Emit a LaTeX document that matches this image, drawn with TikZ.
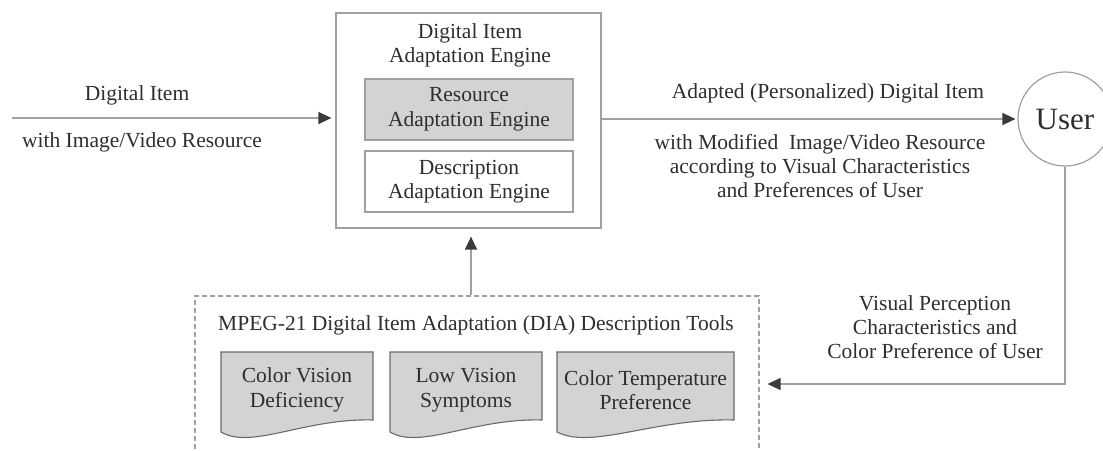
\documentclass[tikz,border=0pt]{standalone}
\usepackage{fontspec}
\setmainfont{Liberation Serif}
\usetikzlibrary{arrows.meta,calc}
\definecolor{txt}{HTML}{2E2E2E}
\definecolor{ln}{HTML}{A0A0A0}
\definecolor{docln}{HTML}{6A6A6A}
\definecolor{fillg}{HTML}{D3D3D3}
\definecolor{tipc}{HTML}{3A3A3A}
\newcommand\docshape[2]{%
  \pgfmathsetmacro\dw{#2-#1}%
  \path[docpath] (#1,352) -- (#2,352) -- (#2,420)
    .. controls ({#2-0.45*\dw},418) and ({#1+0.2*\dw},450) .. (#1,432) -- cycle;%
}
\begin{document}
\begin{tikzpicture}[x=1pt,y=-1pt,
  lbl/.style={text=txt,font=\fontsize{21.5}{24.5}\selectfont,align=center,inner sep=0pt},
  box/.style={draw=ln,line width=1.2pt},
  conn/.style={draw=ln,line width=1.3pt,-{Triangle[length=13pt,width=12pt,color=tipc,fill=tipc]}},
  docpath/.style={draw=docln,fill=fillg,line width=1.1pt},
  dashbox/.style={draw=ln,line width=1.1pt,dash pattern=on 5pt off 3pt}]
\useasboundingbox (0,0) rectangle (1103,450);

% main engine box
\node[box,minimum width=265pt,minimum height=215pt,inner sep=0pt] (main) at (468.5,120.5) {};
\node[lbl] (mainT) at (470,45.5) {Digital Item\\Adaptation Engine};
\node[box,lbl,fill=fillg,minimum width=208pt,minimum height=61pt] (res) at (469,109.5) {Resource\\Adaptation Engine};
\node[box,lbl,minimum width=208pt,minimum height=61pt] (desc) at (469,181.5) {Description\\Adaptation Engine};

% user
\node[draw=ln,line width=1.2pt,circle,minimum size=94pt,inner sep=0pt,text=txt,font=\fontsize{31}{31}\selectfont] (user) at (1065,119) {User};

% DIA description tools
\node[dashbox,minimum width=564pt,minimum height=204pt,inner sep=0pt] (dia) at (477,398) {};
\node[lbl] (diaT) at (476,325) {MPEG-21 Digital Item Adaptation (DIA) Description Tools};
\docshape{221}{373}
\docshape{390}{542}
\docshape{557}{734}
\node[lbl] (cvd) at (297,390) {Color Vision\\Deficiency};
\node[lbl] (lvs) at (466,390) {Low Vision\\Symptoms};
\node[lbl] (ctp) at (645.5,390) {Color Temperature\\Preference};

% input arrow
\coordinate (inS) at (12,118);
\draw[conn,shorten >=4pt] (inS) -- (inS -| main.west);
\node[lbl] (inL1) at (137,95) {Digital Item};
\node[lbl] (inL2) at (142,142) {with Image/Video Resource};

% output arrow
\draw[conn,shorten >=2pt] (main.east |- user.west) -- (user.west);
\node[lbl] (outL1) at (828,93) {Adapted (Personalized) Digital Item};
\node[lbl,font=\fontsize{21.5}{24}\selectfont] (outL2) at (820,166) {with Modified\ \ Image/Video Resource\\according to Visual Characteristics\\and Preferences of User};

% up arrow
\coordinate (upx) at (471,0);
\draw[conn,shorten >=8pt] (dia.north -| upx) -- (main.south -| upx);

% feedback arrow
\coordinate (fbY) at (0,384);
\draw[conn,shorten >=8pt] (user.south) -- (user.south |- fbY) -- (dia.east |- fbY);
\node[lbl,font=\fontsize{21.5}{24}\selectfont] (fbL) at (935,327) {Visual Perception\\Characteristics and\\Color Preference of User};
\end{tikzpicture}
\end{document}
